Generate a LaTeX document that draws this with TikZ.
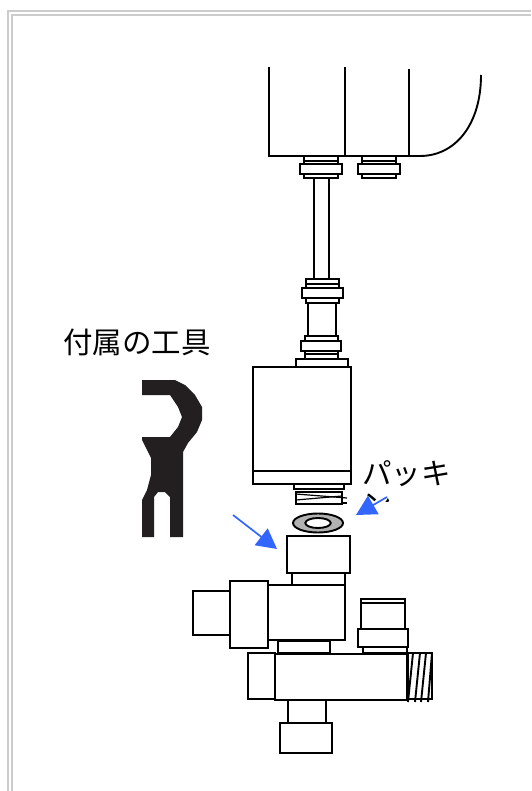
\documentclass[tikz,border=0pt]{standalone}
\usepackage{fontspec}
\usetikzlibrary{arrows.meta}
\newfontfamily\cjk{Noto Sans CJK JP}
\definecolor{arrowblue}{HTML}{3366FF}
\definecolor{toolblack}{HTML}{231F20}
\begin{document}
\begin{tikzpicture}[x=1pt, y=-1pt]
  \tikzstyle{part}=[draw, line width=1.9pt, fill=white]
  \tikzstyle{wire}=[line width=1.9pt]
  \tikzstyle{frame}=[line width=1.5pt, color=black!20]
  \tikzstyle{label}=[font=\cjk\fontsize{29.5}{35}\selectfont, inner sep=0pt]
  \tikzstyle{pointer}=[line width=1.7pt, color=arrowblue, -{Triangle[length=20pt, width=21pt]}]

  \useasboundingbox (0,0) rectangle (531,791);
  \fill[white] (0,0) rectangle (531,791);

  \draw[frame] (8,791) -- (8,11) -- (531,11);
  \draw[frame] (12,791) -- (12,15) -- (531,15);

  % pump head
  \draw[wire] (269,67) -- (269,156) -- (423,156);
  \draw[wire] (345,67) -- (345,156);
  \draw[wire] (409,69) -- (409,157);
  \draw[wire] (420,156) .. controls (455,156) and (481,125) .. (481,75);

  \draw[part] (304,156) rectangle (338,164);
  \draw[wire] (304,161) -- (338,161);
  \draw[part] (300,164) rectangle (342,174);
  \draw[part] (304,174) rectangle (338,178);
  \draw[part] (362,156) rectangle (396,164);
  \draw[wire] (362,161) -- (396,161);
  \draw[part] (358,164) rectangle (400,174);
  \draw[part] (362,174) rectangle (396,178);

  % tube and filter
  \draw[part] (314,178) rectangle (329,279);
  \draw[part] (306,279) rectangle (339,288);
  \draw[wire] (306,284) -- (339,284);
  \draw[part] (302,288) rectangle (343,298);
  \draw[part] (306,298) rectangle (339,303);
  \draw[part] (308,303) rectangle (336,336);
  \draw[part] (305,336) rectangle (338,341);
  \draw[part] (301,341) rectangle (341,351);
  \draw[part] (305,351) rectangle (338,359);
  \draw[wire] (305,354) -- (338,354);
  \draw[part] (296,359) rectangle (348,367);
  \draw[part] (253,367) rectangle (351,484);
  \draw[wire] (253,471) -- (351,471);
  \draw[part] (294,484) rectangle (344,489);

  \draw[part] (296,492) rectangle (342,504);
  \draw[wire, line width=1.2pt] (296,494) -- (347,498);
  \draw[wire, line width=1.2pt] (296,500) -- (342,496);
  \draw[wire, line width=1.2pt] (342,503) -- (347,503);

  % tool
  \fill[toolblack] (142,380) -- (175,380) -- (185,385) -- (195,395) -- (202,407)
    -- (202,420) -- (197,432) -- (188,443) -- (183,452) -- (183,537) -- (170,537)
    -- (170,497) -- (165,492) -- (158,492) -- (154,497) -- (154,537) -- (142,537)
    -- (142,500) -- (147,490) -- (151,475) -- (151,458) -- (142,440) -- (142,437)
    -- (170,437) -- (178,427) -- (182,417) -- (178,407) -- (170,395) -- (142,395) -- cycle;

  \node[label] (tool) at (137,342) {付属の工具};
  \node[label, anchor=west] (packing) at (362,474) {パッキ};
  \begin{scope}
    \clip (355,490) rectangle (400,501);
    \node[label, anchor=west] (packingend) at (362,505) {ン};
  \end{scope}

  % washer
  \draw[part, fill=black!30] (318,523) ellipse (25 and 9.5);
  \draw[part] (318,523) ellipse (12.7 and 5);

  % valve
  \draw[part] (287,536) rectangle (350,573);
  \draw[part] (292,573) rectangle (345,585);
  \draw[part] (268,585) rectangle (345,640);
  \draw[part] (230,581) rectangle (268,648);
  \draw[part] (193,591) rectangle (230,635);
  \draw[part] (278,641) rectangle (330,653);
  \draw[part] (361,599) rectangle (405,629);
  \draw[wire] (361,603) -- (405,603);
  \draw[part] (358,629) rectangle (408,647);
  \draw[part] (363,647) rectangle (407,653);
  \draw[part] (248,653) rectangle (275,699);
  \draw[part] (288,700) rectangle (326,723);
  \draw[part] (280,723) rectangle (332,753);
  \draw[part] (408,653) rectangle (432,699);
  \draw[part] (275,654) rectangle (407,700);
  \draw[wire] (413,653) -- (408,702);
  \draw[wire] (420,653) -- (415,702);
  \draw[wire] (426,653) -- (421,702);
  \draw[wire] (432,653) -- (428,702);

  \coordinate (nutstart) at (233,515);
  \coordinate (nuttip) at (277,549);
  \coordinate (washerstart) at (387,497);
  \coordinate (washertip) at (356,515);
  \draw[pointer] (nutstart) -- (nuttip);
  \draw[pointer] (washerstart) -- (washertip);
\end{tikzpicture}
\end{document}
